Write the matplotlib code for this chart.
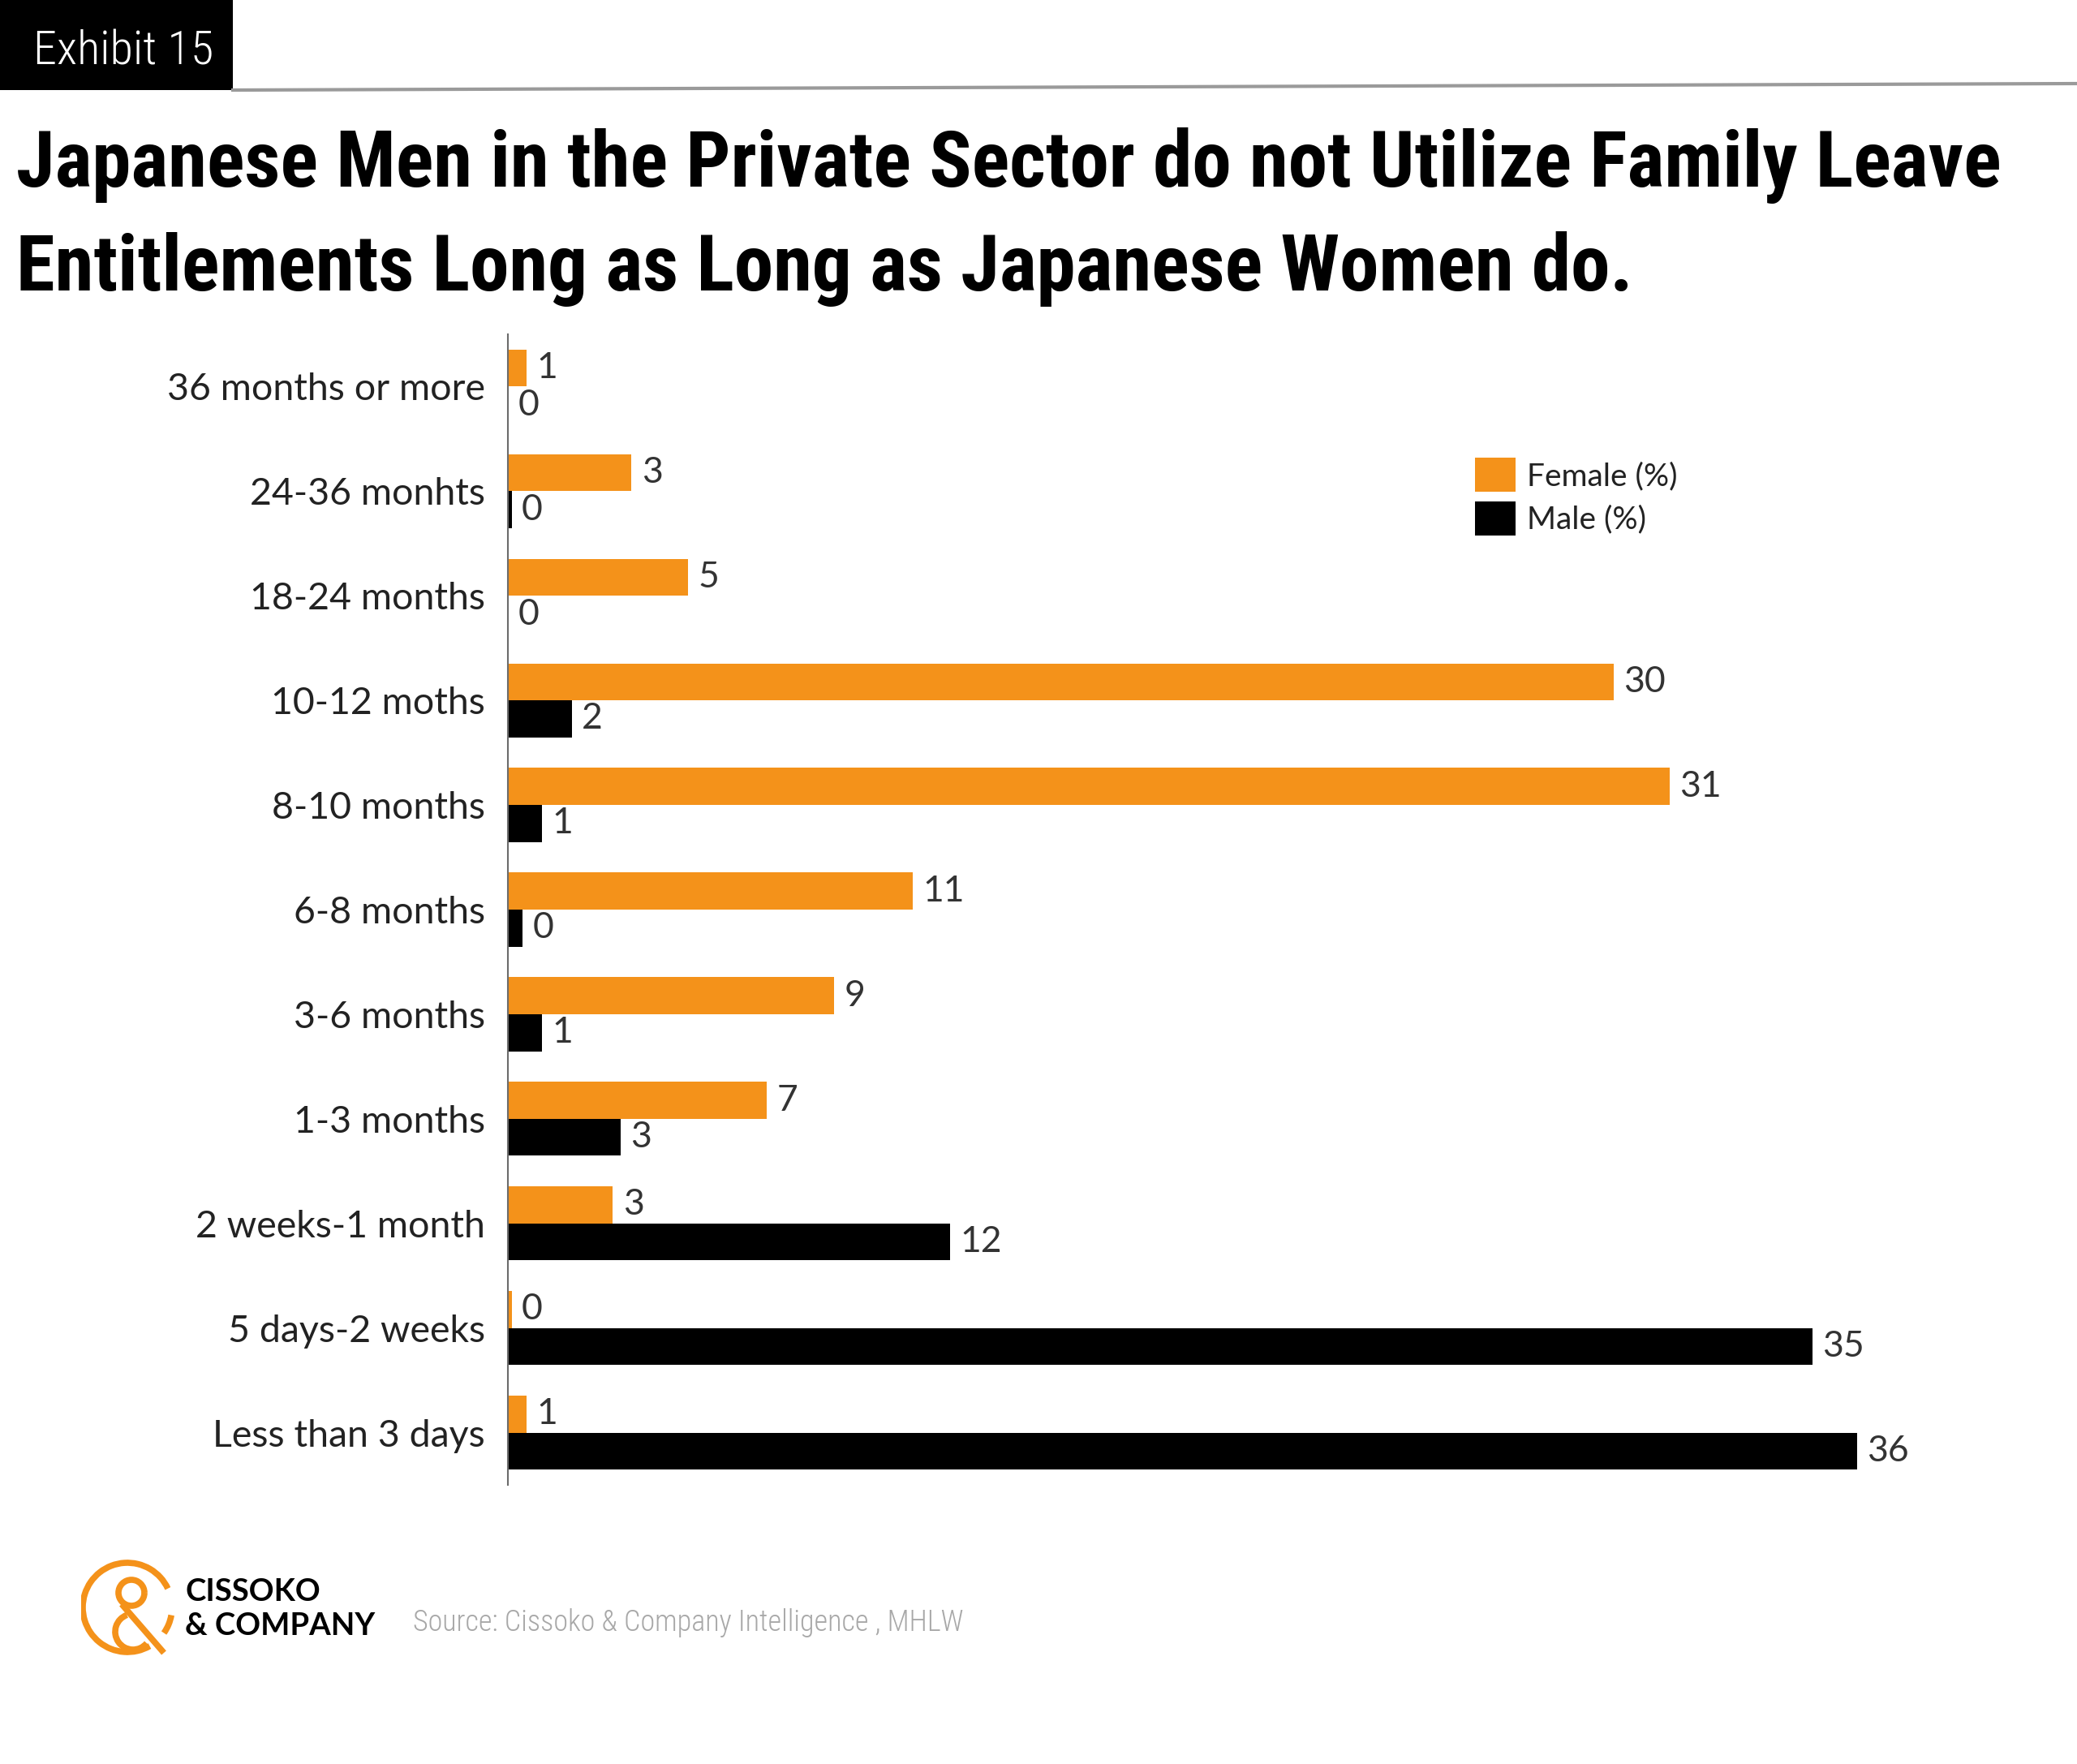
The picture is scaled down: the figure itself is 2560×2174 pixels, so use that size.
import numpy as np
import matplotlib
matplotlib.use("Agg")
import matplotlib.pyplot as plt
from matplotlib.patches import Rectangle, Arc, Patch
from matplotlib.lines import Line2D

# data (top to bottom)
categories = ["36 months or more", "24-36 monhts", "18-24 months", "10-12 moths",
              "8-10 months", "6-8 months", "3-6 months", "1-3 months",
              "2 weeks-1 month", "5 days-2 weeks", "Less than 3 days"]
female = [0.5, 3.3, 4.8, 29.5, 31.0, 10.8, 8.7, 6.9, 2.8, 0.1, 0.5]
male = [0.0, 0.1, 0.0, 1.7, 0.9, 0.4, 0.9, 3.0, 11.8, 34.8, 36.0]
female_labels = ["1", "3", "5", "30", "31", "11", "9", "7", "3", "0", "1"]
male_labels = ["0", "0", "0", "2", "1", "0", "1", "3", "12", "35", "36"]

ORANGE = "#F4921A"
BLACK = "#000000"
W, H = 2560, 2174

narrow = ["Roboto Condensed", "Liberation Sans Narrow", "Roboto", "DejaVu Sans"]
light = ["Lato", "DejaVu Sans"]

fig = plt.figure(figsize=(W / 100, H / 100), dpi=100)
fig.patch.set_facecolor("white")


def fx(px):
    return px / W


def fy(py):
    return 1 - py / H


def fit(t, width_px):
    # scale font size so the text spans the given width in pixels
    r = fig.canvas.get_renderer()
    w = t.get_window_extent(r).width
    t.set_fontsize(t.get_fontsize() * width_px / w)
    return t


# header
fig.patches.append(Rectangle((0, fy(111)), fx(287), 111 / H, transform=fig.transFigure,
                             facecolor="black", edgecolor="none", zorder=0))
t = fig.text(fx(41), fy(80), "Exhibit 15", color="white", fontsize=40, family=narrow,
             fontweight="light", va="baseline", ha="left")
fit(t, 222)
fig.lines.append(Line2D([fx(287), fx(2560)], [fy(111), fy(103)], transform=fig.transFigure,
                        color="#9a9a9a", linewidth=3))

# title
t1 = fig.text(fx(20), fy(230), "Japanese Men in the Private Sector do not Utilize Family Leave",
              fontsize=60, fontweight="bold", family=narrow, va="baseline", ha="left")
fit(t1, 2449)
t2 = fig.text(fx(20), fy(358), "Entitlements Long as Long as Japanese Women do.",
              fontsize=t1.get_fontsize(), fontweight="bold", family=narrow,
              va="baseline", ha="left")

# chart
ax = fig.add_axes([fx(626), fy(1830), fx(2460) - fx(626), 1418 / H])
y = np.arange(len(categories))
h = 0.354
ax.barh(y - h / 2, female, height=h, color=ORANGE, label="Female (%)")
ax.barh(y + h / 2, male, height=h, color=BLACK, label="Male (%)")

for yi, v, lab in zip(y - h / 2, female, female_labels):
    ax.annotate(lab, (v, yi), xytext=(9, 0), textcoords="offset points",
                va="center", ha="left", fontsize=32, color="#333333", family=light)
for yi, v, lab in zip(y + h / 2, male, male_labels):
    ax.annotate(lab, (v, yi), xytext=(9, 0), textcoords="offset points",
                va="center", ha="left", fontsize=32, color="#333333", family=light)

ax.set_xlim(0, 39.7)
ax.set_ylim(len(categories) - 0.5, -0.5)
ax.set_yticks(y)
ax.set_yticklabels(categories, fontsize=33.5, color="#222222", family=light)
ax.tick_params(axis="y", length=0, pad=20)
ax.set_xticks([])
for s in ["top", "right", "bottom"]:
    ax.spines[s].set_visible(False)
ax.spines["left"].set_color("#6b6b6b")
ax.spines["left"].set_linewidth(1.5)

handles = [Patch(facecolor=ORANGE, edgecolor="none"), Patch(facecolor=BLACK, edgecolor="none")]
fig.legend(handles, ["Female (%)", "Male (%)"], loc="upper left",
           bbox_to_anchor=(fx(1818), fy(564)), bbox_transform=fig.transFigure,
           frameon=False, prop={"family": light, "size": 28},
           handlelength=1.29, handleheight=1.285, handletextpad=0.36,
           labelspacing=0.3, borderpad=0, borderaxespad=0, labelcolor="#222222")

# logo
lax = fig.add_axes([fx(100), fy(2045), 115 / W, 130 / H])
lax.set_xlim(0, 115)
lax.set_ylim(0, 130)
lax.axis("off")
lw = 5.5
lax.add_patch(Arc((57, 64), 110, 110, theta1=25, theta2=300, color=ORANGE, lw=lw))
lax.add_patch(Arc((57, 64), 110, 110, theta1=-35, theta2=-10, color=ORANGE, lw=lw))
lax.add_patch(Arc((62, 82), 32, 32, theta1=0, theta2=360, color=ORANGE, lw=lw))
lax.add_patch(Arc((64, 34), 44, 44, theta1=110, theta2=320, color=ORANGE, lw=lw))
lax.plot([50, 102], [68, 8], color=ORANGE, lw=lw, solid_capstyle="butt")

fig.text(fx(228), fy(1973), "CISSOKO", fontsize=27.5, fontweight="bold", family=light,
         va="baseline", ha="left")
fig.text(fx(228), fy(2015), "& COMPANY", fontsize=27.5, fontweight="bold", family=light,
         va="baseline", ha="left")
t = fig.text(fx(509), fy(2010), "Source: Cissoko & Company Intelligence , MHLW", fontsize=26,
             color="#a8a8a8", family=narrow, fontweight="light", va="baseline", ha="left")
fit(t, 680)

fig.savefig("out.png", dpi=100, facecolor="white")
